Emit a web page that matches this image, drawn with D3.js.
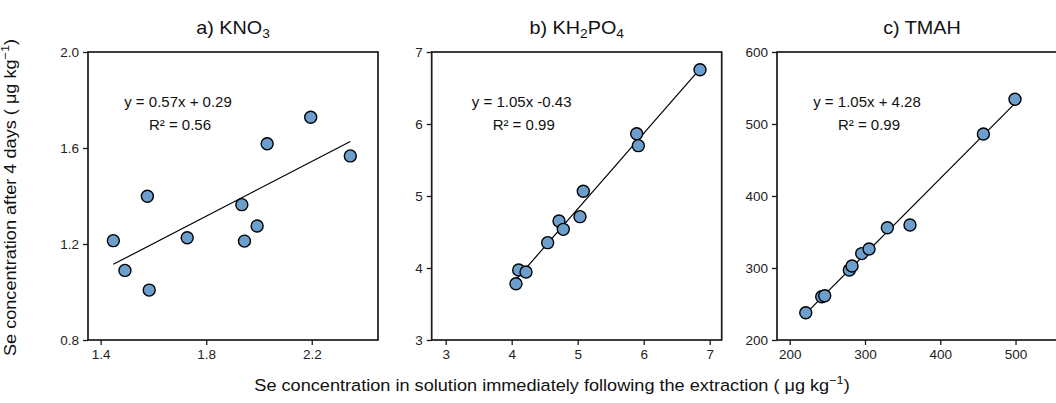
<!DOCTYPE html>
<html>
<head>
<meta charset="utf-8">
<script src="https://cdn.jsdelivr.net/npm/d3@7"></script>
<style>
  html, body { margin: 0; padding: 0; background: #fff; }
  svg { display: block; font-family: "Liberation Sans", Arial, sans-serif; }
</style>
</head>
<body>
<svg id="chart" width="1056" height="403"></svg>
<script>
// ---- Data ----
const panelTitles = [["a) KNO", "3", ""], ["b) KH", "2", "PO", "4"], ["c) TMAH"]];

const kno3X = [1.448, 1.492, 1.577, 1.584, 1.728, 1.935, 1.945, 1.993, 2.031, 2.196, 2.346];
const kno3Y = [1.214, 1.090, 1.399, 1.008, 1.226, 1.364, 1.212, 1.275, 1.618, 1.728, 1.567];

const kh2po4X = [4.065, 4.106, 4.217, 4.545, 4.717, 4.782, 5.035, 5.085, 5.894, 5.919, 6.853];
const kh2po4Y = [3.782, 3.972, 3.944, 4.352, 4.653, 4.537, 4.713, 5.065, 5.865, 5.699, 6.754];

const tmahX = [221.3, 242.5, 246.5, 279.2, 282.8, 295.7, 305.4, 329.7, 359.8, 457.3, 499.3];
const tmahY = [237.9, 260.0, 261.5, 297.2, 302.8, 320.0, 326.4, 356.0, 359.7, 486.1, 534.3];

const slopes = [0.57, 1.05, 1.05];
const intercepts = [0.29, -0.43, 4.28];
const eqLabels = ["y = 0.57x + 0.29", "y = 1.05x -0.43", "y = 1.05x + 4.28"];
const r2Labels = ["R² = 0.56", "R² = 0.99", "R² = 0.99"];

const xDomains = [[1.352, 2.451], [2.788, 7.182], [183.1, 568.4]];
const yDomains = [[0.8, 2.0], [3, 7], [200, 600]];
const xTicks = [[1.4, 1.8, 2.2], [3, 4, 5, 6, 7], [200, 300, 400, 500]];
const yTicks = [[0.8, 1.2, 1.6, 2.0], [3, 4, 5, 6, 7], [200, 300, 400, 500, 600]];
const tickFormats = [".1f", "d", "d"];

const seriesX = [kno3X, kh2po4X, tmahX];
const seriesY = [kno3Y, kh2po4Y, tmahY];

// ---- Layout ----
const svg = d3.select("#chart");
const panelLefts = [88, 431.7, 777];
const panelW = 290, plotTop = 52, plotBottom = 340;
const frameColor = "#1a1a1a";

panelLefts.forEach((left, i) => {
  const x = d3.scaleLinear().domain(xDomains[i]).range([left, left + panelW]);
  const y = d3.scaleLinear().domain(yDomains[i]).range([plotBottom, plotTop]);
  const g = svg.append("g");

  // frame
  g.append("rect")
    .attr("x", left).attr("y", plotTop)
    .attr("width", panelW).attr("height", plotBottom - plotTop)
    .attr("fill", "none").attr("stroke", frameColor).attr("stroke-width", 1.7);

  // axes
  const fmt = d3.format(tickFormats[i]);
  const xa = g.append("g").attr("transform", `translate(0,${plotBottom})`)
    .call(d3.axisBottom(x).tickValues(xTicks[i]).tickFormat(fmt).tickSize(5).tickPadding(4).tickSizeOuter(0));
  const ya = g.append("g").attr("transform", `translate(${left},0)`)
    .call(d3.axisLeft(y).tickValues(yTicks[i]).tickFormat(fmt).tickSize(5).tickPadding(4).tickSizeOuter(0));
  [xa, ya].forEach(a => {
    a.select(".domain").remove();
    a.selectAll("line").attr("stroke", frameColor).attr("stroke-width", 1.3);
    a.selectAll("text").attr("font-size", 13.5).attr("fill", "#222")
      .attr("font-family", "'Liberation Sans', Arial, sans-serif");
  });

  // regression line
  const xs = seriesX[i];
  const x0 = d3.min(xs), x1 = d3.max(xs);
  g.append("line")
    .attr("x1", x(x0)).attr("y1", y(slopes[i] * x0 + intercepts[i]))
    .attr("x2", x(x1)).attr("y2", y(slopes[i] * x1 + intercepts[i]))
    .attr("stroke", "#000").attr("stroke-width", 1.2);

  // points
  g.selectAll("circle.pt").data(xs.map((v, k) => [v, seriesY[i][k]]))
    .enter().append("circle")
    .attr("class", "pt")
    .attr("cx", d => x(d[0])).attr("cy", d => y(d[1]))
    .attr("r", 6)
    .attr("fill", "#6c9fcd").attr("stroke", "#000").attr("stroke-width", 1.4);

  // equation
  g.append("text").attr("x", left + 90).attr("y", 107)
    .attr("text-anchor", "middle").attr("font-size", 15).attr("fill", "#111")
    .text(eqLabels[i]);
  g.append("text").attr("x", left + 92).attr("y", 129.5)
    .attr("text-anchor", "middle").attr("font-size", 15).attr("fill", "#111")
    .text(r2Labels[i]);

  // title
  const t = g.append("text")
    .attr("transform", `translate(${left + panelW / 2},34) scale(1.1,1)`)
    .attr("text-anchor", "middle").attr("font-size", 18).attr("fill", "#111");
  const parts = panelTitles[i];
  parts.forEach((p, k) => {
    if (!p) return;
    const ts = t.append("tspan").text(p);
    if (k % 2 === 1) ts.attr("font-size", 12.5).attr("dy", 4);
    else if (k > 0) ts.attr("dy", -4);
  });
});

// axis titles
const yt = svg.append("text")
  .attr("transform", "translate(16,197.5) rotate(-90) scale(1.1,1)")
  .attr("text-anchor", "middle").attr("font-size", 16.5).attr("fill", "#111");
yt.append("tspan").text("Se concentration after 4 days ( μg kg");
yt.append("tspan").text("−1").attr("font-size", 11.5).attr("dy", -7);
yt.append("tspan").text(")").attr("dy", 7);

const xt = svg.append("text")
  .attr("transform", "translate(552,391) scale(1.1,1)")
  .attr("text-anchor", "middle").attr("font-size", 16.5).attr("fill", "#111");
xt.append("tspan").text("Se concentration in solution immediately following the extraction ( μg kg");
xt.append("tspan").text("−1").attr("font-size", 11.5).attr("dy", -7);
xt.append("tspan").text(")").attr("dy", 7);
</script>
</body>
</html>
